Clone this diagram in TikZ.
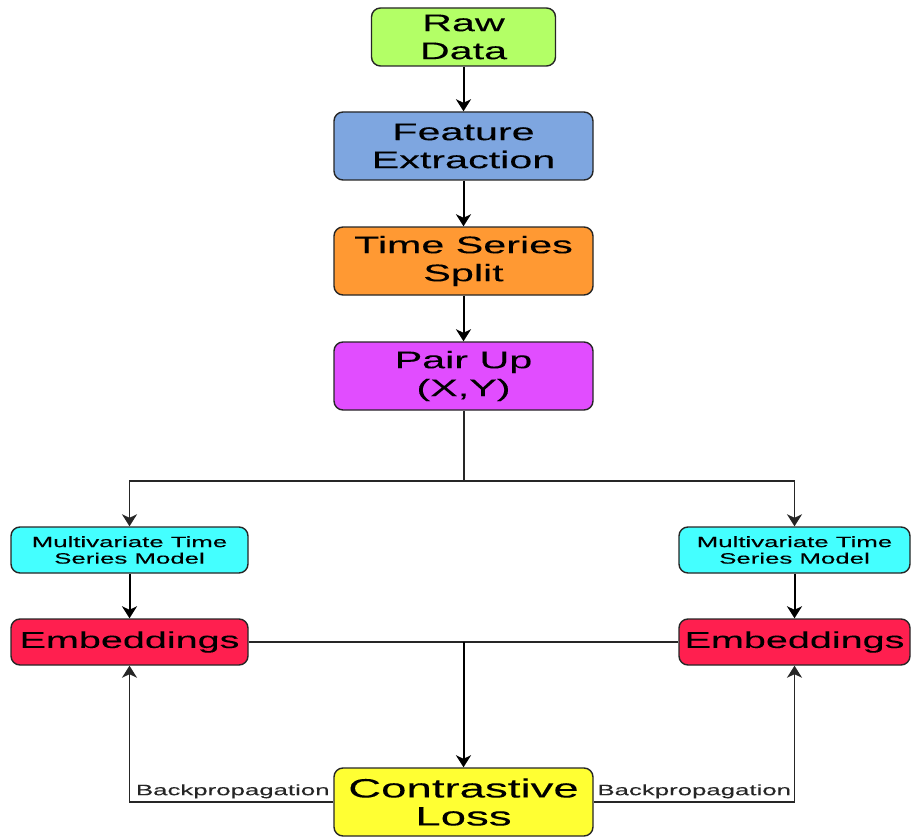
\documentclass[tikz,border=0pt]{standalone}
\usepackage{fontspec}
\setmainfont{Liberation Sans}[FakeStretch=1.72,FakeBold=0.12]
\usetikzlibrary{positioning}
\usetikzlibrary{arrows.meta}
\definecolor{rawgreen}{RGB}{179,255,102}
\definecolor{featblue}{RGB}{126,166,224}
\definecolor{splitorange}{RGB}{255,153,51}
\definecolor{pairviolet}{RGB}{225,77,255}
\definecolor{modelcyan}{RGB}{68,255,255}
\definecolor{embred}{RGB}{255,31,79}
\definecolor{lossyellow}{RGB}{255,255,51}

\begin{document}
\begin{tikzpicture}[>={Stealth[length=12pt,width=15pt,inset=3.5pt]},x=1pt,y=-1pt,
    box/.style={draw=black!85,line width=1.4pt,rounded corners=9pt,align=center,inner sep=0pt},
    big/.style={font=\fontsize{24}{28}\selectfont},
    small/.style={font=\fontsize{15}{16.5}\selectfont},
    flow/.style={color=black,line width=2pt,->},
    link/.style={color=black!85,line width=1.4pt}]
            \useasboundingbox (0,0) rectangle (911,840);
            %
            \node (raw) at (463.5,37) [box,big,fill=rawgreen,minimum width=184pt,minimum height=58pt] {Raw\\Data};
            \node (feature) at (463.5,146) [box,big,fill=featblue,minimum width=259pt,minimum height=68pt] {Feature\\Extraction};
            \node (split) at (463.5,261) [box,big,fill=splitorange,minimum width=259pt,minimum height=68pt] {Time Series\\Split};
            \node (pairup) at (463.5,376) [box,big,fill=pairviolet,minimum width=259pt,minimum height=68pt] {Pair Up\\(X,Y)};
            %
            \draw [flow] (raw) -- (feature);
            \draw [flow] (feature) -- (split);
            \draw [flow] (split) -- (pairup);
            %
            \node (modelL) at (129.5,550) [box,small,fill=modelcyan,minimum width=237pt,minimum height=46pt] {Multivariate Time\\Series Model};
            \node (modelR) at (794.5,550) [box,small,fill=modelcyan,minimum width=231pt,minimum height=46pt] {Multivariate Time\\Series Model};
            \node (embL) at (129.5,642) [box,font=\fontsize{23}{28}\selectfont,fill=embred,minimum width=237pt,minimum height=46pt] {Embeddings};
            \node (embR) at (794.5,642) [box,font=\fontsize{23}{28}\selectfont,fill=embred,minimum width=231pt,minimum height=46pt] {Embeddings};
            \node (loss) at (463.5,802) [box,font=\fontsize{26.5}{28}\selectfont,fill=lossyellow,minimum width=259pt,minimum height=68pt] {Contrastive\\Loss};
            %
            \coordinate (fork) at (463.5,481);
            \draw [link,line width=2pt] (pairup) -- (fork);
            \draw [link,->] (fork) -| (modelL);
            \draw [link,->] (fork) -| (modelR);
            \draw [flow] (modelL) -- (embL);
            \draw [flow] (modelR) -- (embR);
            %
            \coordinate (join) at (463.5,642);
            \draw [link] (embL) -- (embR);
            \draw [flow] (join) -- (loss);
            %
            \draw [link,->] (loss.west) -| node[pos=0,anchor=south east,small,inner sep=3pt] {Backpropagation} (embL);
            \draw [link,->] (loss.east) -| node[pos=0,anchor=south west,small,inner sep=3pt] {Backpropagation} (embR);
            %
\end{tikzpicture}
\end{document}
